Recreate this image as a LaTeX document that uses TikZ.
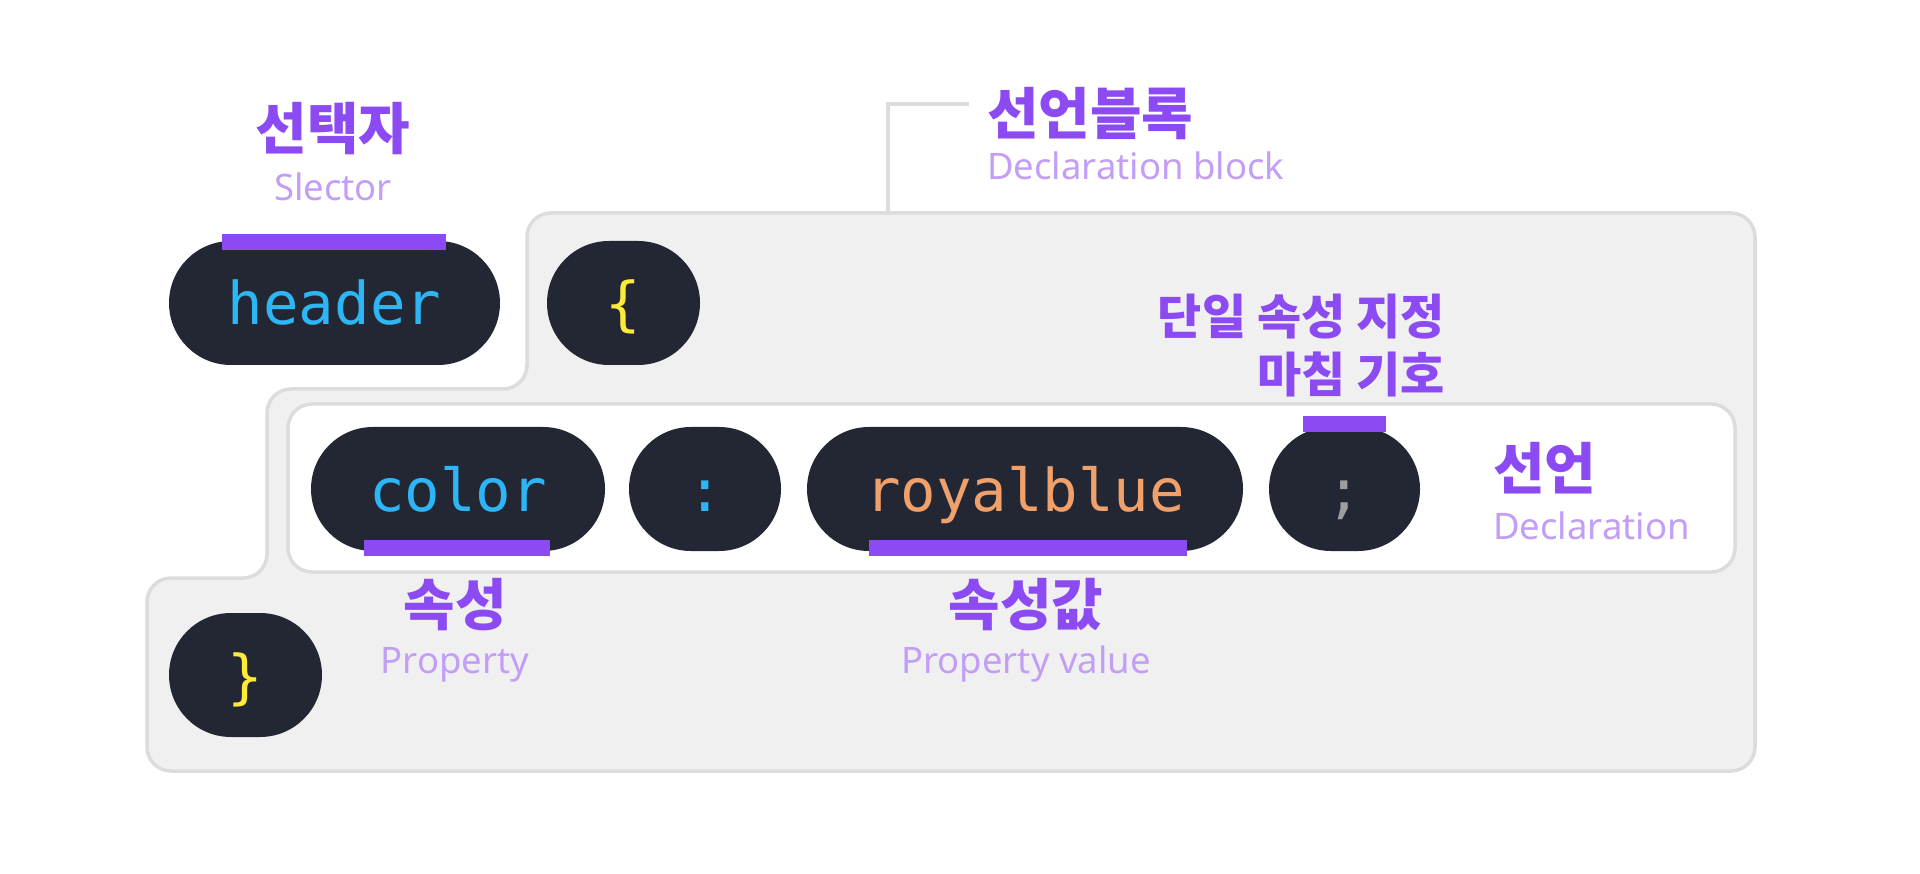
\documentclass[tikz,border=0pt]{standalone}
\usepackage{fontspec}
\setmainfont{Noto Sans}
\newfontfamily\krfont{Noto Sans CJK KR}
\newfontfamily\codefont{DejaVu Sans Mono}
\usetikzlibrary{positioning}

\definecolor{pillbg}{HTML}{232733}
\definecolor{markpurple}{HTML}{8C4BF2}
\definecolor{softpurple}{HTML}{C29EF7}
\definecolor{blockfill}{HTML}{F0F0F0}
\definecolor{blockline}{HTML}{DCDCDC}
\definecolor{codeblue}{HTML}{2DB6F5}
\definecolor{codeyellow}{HTML}{FFE93B}
\definecolor{codeorange}{HTML}{F0A06A}
\definecolor{codegray}{HTML}{9E9E9E}

\begin{document}
\begin{tikzpicture}[
  x=1pt, y=-1pt,
  pill/.style={fill=pillbg, rounded corners=62pt, minimum height=124pt, inner sep=0pt,
    text height=44pt, text depth=0pt, font=\codefont\fontsize{59pt}{59pt}\selectfont},
  markbar/.style={fill=markpurple, minimum height=16pt, inner sep=0pt},
  head/.style={text=markpurple, inner sep=0pt, font=\krfont\bfseries\fontsize{56pt}{56pt}\selectfont},
  note/.style={text=markpurple, inner sep=0pt, font=\krfont\bfseries\fontsize{48pt}{48pt}\selectfont},
  sub/.style={text=softpurple, inner sep=0pt, font=\fontsize{36.5pt}{36.5pt}\selectfont},
  wire/.style={draw=blockline, line width=3.5pt}
]
\useasboundingbox (0,0) rectangle (1920,874);

\draw[draw=blockline, fill=blockfill, line width=3.5pt, rounded corners=24pt]
  (527,213) -- (1755,213) -- (1755,771) -- (147,771) -- (147,578)
  -- (267,578) -- (267,389) -- (527,389) -- cycle;
\coordinate (blktop) at (888,213);
\coordinate (blktag) at (969,104);

\node[draw=blockline, fill=white, line width=3.5pt, rounded corners=24pt,
  minimum width=1447pt, minimum height=168pt] (decl) at (1011.5,488) {};

\node[pill, minimum width=331pt, text=codeblue] (hdr) at (334.5,303) {header};
\node[pill, minimum width=153pt, text=codeyellow] (lbrace) at (623.5,303) {\{};
\node[pill, minimum width=294pt, text=codeblue] (prop) at (458,489) {color};
\node[pill, minimum width=152pt, text=codeblue] (colon) at (705,489) {:};
\node[pill, minimum width=436pt, text=codeorange] (val) at (1025,489) {royalblue};
\node[pill, minimum width=151pt, text=codegray] (semi) at (1344.5,489) {;};
\node[pill, minimum width=153pt, text=codeyellow] (rbrace) at (245.5,675) {\}};

\node[markbar, minimum width=224pt] (hdrbar) at (334,242) {};
\node[markbar, minimum width=186pt] (propbar) at (457,548) {};
\node[markbar, minimum width=318pt] (valbar) at (1028,548) {};
\node[markbar, minimum width=83pt] (semibar) at (1344.5,424.5) {};

\node[head, anchor=base] (selkr) at (333,150) {선택자};
\node[sub, anchor=base] (selen) at (333,201) {Slector};
\node[head, anchor=base west] (blkkr) at (987,135) {선언블록};
\node[sub, anchor=base west] (blken) at (987,180) {Declaration block};
\node[note, anchor=base east] (endkr1) at (1445,335) {단일 속성 지정};
\node[note, anchor=base east] (endkr2) at (1445,393) {마침 기호};
\node[head, anchor=base west] (declkr) at (1493,489) {선언};
\node[sub, anchor=base west] (declen) at (1493,539) {Declaration};
\node[head, anchor=base] (propkr) at (455,625) {속성};
\node[sub, anchor=base] (propen) at (455,673) {Property};
\node[head, anchor=base] (valkr) at (1026,625) {속성값};
\node[sub, anchor=base] (valen) at (1026,673) {Property value};

\draw[wire] (blktag) -| (blktop);
\end{tikzpicture}
\end{document}
